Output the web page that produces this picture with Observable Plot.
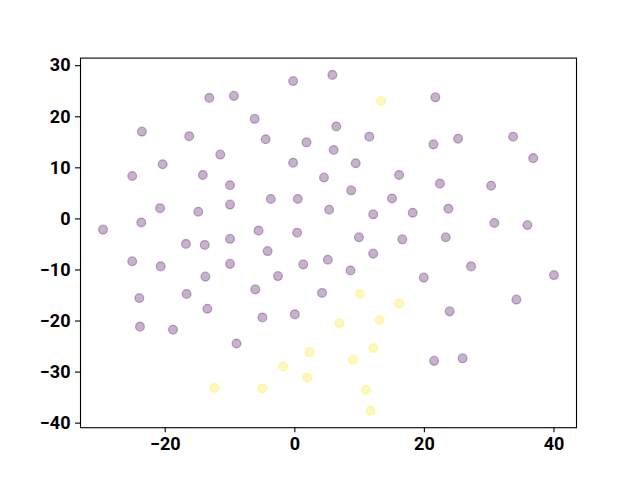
<!DOCTYPE html>
<html>
<head>
<meta charset="utf-8">
<script src="https://cdn.jsdelivr.net/npm/d3@7"></script>
<script src="https://cdn.jsdelivr.net/npm/@observablehq/plot@0.6"></script>
<style>
  html, body { margin: 0; padding: 0; background: #fff; }
  svg { display: block; }
</style>
</head>
<body>
<div id="chart"></div>
<script>
// Cluster 0 (purple) points
const purpleX = [-13.2, -9.4, -23.6, -16.3, -11.5, -20.4, -25.1, -14.2, -10.0, -20.8, -14.9, -10.0, -23.7, -29.6, -10.0,
  -16.8, -13.9, -25.1, -20.7, -10.0, -13.8, -24.0, -16.7, -13.5, -23.9, -18.8, -9.0,
  -0.26, 5.8, -6.2, 6.4, -4.5, 1.8, 11.5, 6.0, -0.26, 9.4, 4.5, 16.1, 8.7, -3.7, 0.46, 15.0, 5.3, 12.1, 18.2, -5.6, 0.36, 9.9, 16.6,
  -4.2, 12.1, 1.3, 5.1, -2.6, 8.6, -6.1, 4.2, -5.0, 0.0,
  21.7, 21.4, 25.2, 33.7, 36.8, 22.4, 30.3, 23.7, 30.8, 35.9, 23.3,
  27.2, 19.9, 40.0, 34.2, 23.9, 21.5, 25.9];
const purpleY = [23.7, 24.1, 17.1, 16.2, 12.6, 10.7, 8.4, 8.6, 6.6, 2.1, 1.4, 2.8, -0.7, -2.1, -3.9,
  -4.9, -5.1, -8.3, -9.3, -8.8, -11.3, -15.5, -14.7, -17.6, -21.1, -21.7, -24.4,
  27.0, 28.2, 19.6, 18.1, 15.6, 15.0, 16.1, 13.5, 11.0, 10.9, 8.1, 8.6, 5.6, 3.9, 3.9, 4.0, 1.8, 0.9, 1.2, -2.3, -2.7, -3.6, -4.0,
  -6.3, -6.8, -8.9, -8.0, -11.2, -10.1, -13.8, -14.5, -19.3, -18.7,
  23.8, 14.6, 15.7, 16.1, 11.9, 6.9, 6.5, 2.0, -0.8, -1.2, -3.6,
  -9.3, -11.5, -11.0, -15.8, -18.1, -27.8, -27.3];
// Cluster 1 (yellow) points
const yellowX = [13.3, -12.4, 10.1, 16.1, 6.9, 13.1, 12.1, 2.3, 9.0, -1.8, 1.9, -5.0, 11.0, 11.7];
const yellowY = [23.1, -33.1, -14.7, -16.6, -20.4, -19.8, -25.3, -26.1, -27.6, -28.9, -31.1, -33.2, -33.5, -37.6];

const xTicks = [-20, 0, 20, 40];
const yTicks = [-40, -30, -20, -10, 0, 10, 20, 30];
const clusterColors = ["#440154", "#fde725"];

const data = [
  ...purpleX.map((x, i) => ({x, y: purpleY[i], c: 0})),
  ...yellowX.map((x, i) => ({x, y: yellowY[i], c: 1}))
];

function padded(vals) {
  const [lo, hi] = d3.extent(vals);
  const m = (hi - lo) * 0.05;
  return [lo - m, hi + m];
}
const xDomain = padded(data.map(d => d.x));
const yDomain = padded(data.map(d => d.y));

const chart = Plot.plot({
  width: 640,
  height: 480,
  marginLeft: 80,
  marginRight: 64,
  marginTop: 57.6,
  marginBottom: 52.8,
  style: {fontFamily: "Roboto, 'Liberation Sans', sans-serif", fontSize: "18px", fontWeight: "bold", color: "black", background: "white"},
  x: {domain: xDomain, label: null},
  y: {domain: yDomain, label: null},
  marks: [
    Plot.dot(data, {
      x: "x", y: "y", r: 4.4,
      fill: d => clusterColors[d.c], fillOpacity: 0.3,
      stroke: d => clusterColors[d.c], strokeOpacity: 0.3, strokeWidth: 1.3
    }),
    Plot.frame({stroke: "black", strokeWidth: 1.1}),
    Plot.axisX({ticks: xTicks, tickSize: 5, tickPadding: 5, label: null, fontSize: 18, fontWeight: "bold", strokeWidth: 1.1}),
    Plot.axisY({ticks: yTicks, tickSize: 5, tickPadding: 5, label: null, fontSize: 18, fontWeight: "bold", strokeWidth: 1.1})
  ]
});
document.getElementById("chart").appendChild(chart);
</script>
</body>
</html>
